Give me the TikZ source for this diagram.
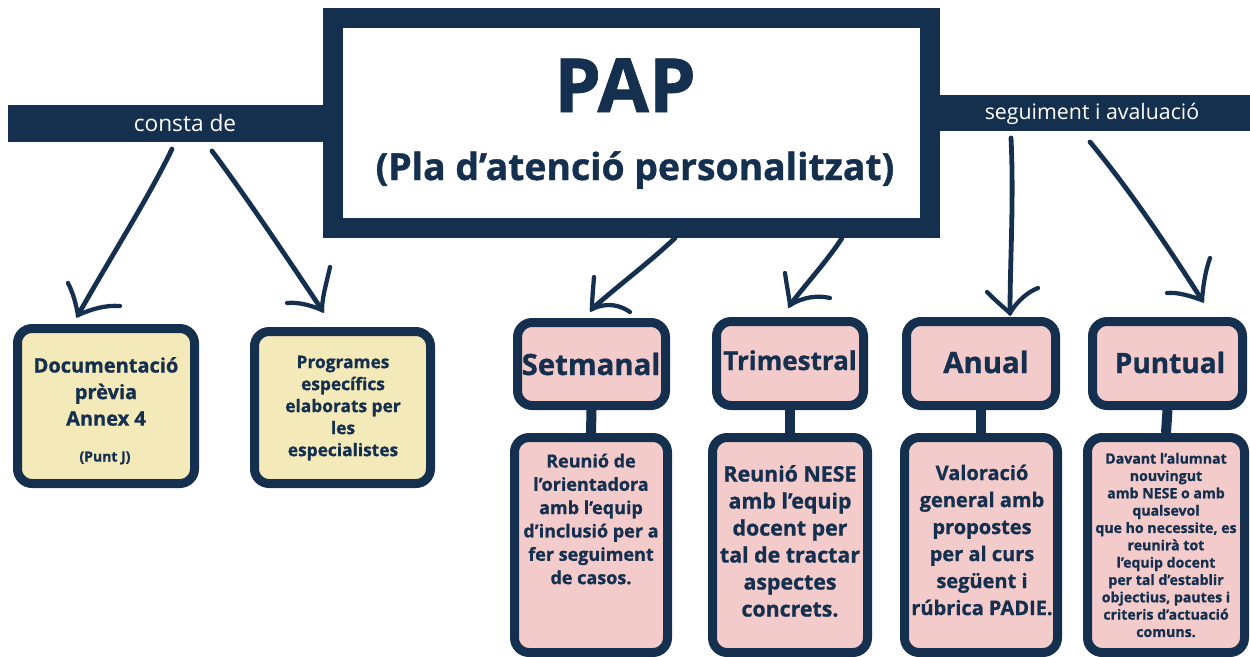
\documentclass[tikz,border=0pt]{standalone}
\usepackage{fontspec}
\setmainfont{Open Sans}[BoldFeatures={FakeBold=1.0}]
\definecolor{navy}{HTML}{15304F}
\definecolor{pinkf}{HTML}{F4CBCB}
\definecolor{yellowf}{HTML}{F4E9B8}
\tikzset{
  bar/.style={fill=navy, text=white, inner sep=0pt, minimum height=37*0.75pt},
  mainbox/.style={draw=navy, fill=white, line width=15pt, inner sep=0pt},
  rbox/.style={draw=navy, line width=6.75pt, rounded corners=11pt, inner sep=0pt},
  pbox/.style={rbox, fill=pinkf},
  ybox/.style={rbox, fill=yellowf},
  sz/.style 2 args={minimum width=#1*0.75pt, minimum height=#2*0.75pt},
  stem/.style={draw=navy, line width=7.5pt},
  txt/.style={text=navy, font=\bfseries, align=center, inner sep=0pt},
  hand/.style={draw=navy, line width=3.6pt, line cap=round, line join=round},
  barb/.style={draw=navy, line width=3.2pt, line cap=round},
}
\begin{document}
\begin{tikzpicture}[x=0.75pt,y=-0.75pt]
\useasboundingbox (0,0) rectangle (1250,657);
% bars
\node[bar, minimum width=354*0.75pt] (lbar) at (185,123.5) {};
\node[bar, minimum width=318*0.75pt, minimum height=36*0.75pt] (rbar) at (1093,113) {};
\node[text=white, font=\fontsize{17}{20}\selectfont, anchor=base, inner sep=0pt] (constade) at (185,131) {consta de};
\node[text=white, font=\fontsize{16}{20}\selectfont, anchor=base, inner sep=0pt] (seg) at (1092,119) {seguiment i avaluació};
% main box
\node[mainbox, sz={597}{210}] (main) at (631.5,123) {};
\node[txt, anchor=base, font=\fontsize{56}{60}\bfseries] (pap) at (625,112) {PAP};
\node[txt, anchor=base, font=\fontsize{28}{32}\bfseries] (papsub) at (635,180) {(Pla d’atenció personalitzat)};
% yellow boxes
\node[ybox, sz={177}{155}] (y1) at (106,406) {};
\node[ybox, sz={176}{152}] (y2) at (342.5,407.5) {};
\node[txt, font=\fontsize{15}{19.9}\bfseries] (y1t) at (106,391.5) {Documentació\\prèvia\\Annex 4};
\node[txt, font=\fontsize{10.5}{12}\bfseries] (y1p) at (105,458) {(Punt J)};
\node[txt, font=\fontsize{13}{16.5}\bfseries] (y2t) at (343,408) {Programes\\específics\\elaborats per\\les\\especialistes};
% pink boxes
\node[pbox, sz={148}{83}] (st) at (591.5,364) {};
\node[pbox, sz={153}{215}] (sb) at (591,545) {};
\node[pbox, sz={147}{84}] (tt) at (790,363.5) {};
\node[pbox, sz={155}{215}] (tb) at (790,545) {};
\node[pbox, sz={149}{84}] (at) at (981,363.5) {};
\node[pbox, sz={153}{215}] (ab) at (981,545) {};
\node[pbox, sz={150}{84}] (pt) at (1167.5,363.5) {};
\node[pbox, sz={157}{215}] (pb) at (1166,545) {};
\draw[stem] (st.south) -- (sb.north);
\draw[stem] (tt.south) -- (tb.north);
\draw[stem] (at.south) -- (ab.north);
\draw[stem] (pt.south) -- (pb.north);
% titles
\node[txt, anchor=base, font=\fontsize{22}{26}\bfseries] (stt) at (591,375) {Setmanal};
\node[txt, anchor=base, font=\fontsize{19.5}{26}\bfseries] (ttt) at (790,370) {Trimestral};
\node[txt, anchor=base, font=\fontsize{22}{26}\bfseries] (att) at (986,373) {Anual};
\node[txt, anchor=base, font=\fontsize{21}{26}\bfseries] (ptt) at (1170,373) {Puntual};
% body texts
\node[txt, font=\fontsize{13.5}{17.5}\bfseries] (sbt) at (591,519) {Reunió de\\l’orientadora\\amb l’equip\\d’inclusió per a\\fer seguiment\\de casos.};
\node[txt, font=\fontsize{16}{20.25}\bfseries] (tbt) at (790,541) {Reunió NESE\\amb l’equip\\docent per\\tal de tractar\\aspectes\\concrets.};
\node[txt, font=\fontsize{15}{20.25}\bfseries] (abt) at (982,540) {Valoració\\general amb\\propostes\\per al curs\\següent i\\rúbrica PADIE.};
\node[txt, font=\fontsize{10.6}{13}\bfseries] (pbt) at (1166,545) {Davant l’alumnat\\nouvingut\\amb NESE o amb\\qualsevol\\que ho necessite, es\\reunirà tot\\l’equip docent\\per tal d’establir\\objectius, pautes i\\criteris d’actuació\\comuns.};
% arrows
\coordinate (s1) at (172,149); \coordinate (t1) at (78,315);
\coordinate (s2) at (212,151); \coordinate (t2) at (322,310);
\coordinate (s3) at (675,238); \coordinate (t3) at (592,309);
\coordinate (s4) at (842,238); \coordinate (t4) at (790,305);
\coordinate (s5) at (1011,138); \coordinate (t5) at (1010,313);
\coordinate (s6) at (1090,142); \coordinate (t6) at (1202,300);
\draw[hand] (s1) .. controls (150,195) and (112,255) .. (t1);
\draw[barb] (68,283) .. controls (74,295) and (76,305) .. (t1) .. controls (92,309) and (105,305) .. (120,306);
\draw[hand] (s2) .. controls (245,195) and (290,262) .. (t2);
\draw[barb] (330,267) .. controls (326,285) and (322,298) .. (t2) .. controls (310,305) and (298,302) .. (287,303);
\draw[hand] (s3) .. controls (650,262) and (615,288) .. (t3);
\draw[barb] (594,277) .. controls (593,290) and (592,300) .. (t3) .. controls (607,302) and (620,305) .. (630,312);
\draw[hand] (s4) .. controls (828,260) and (805,285) .. (t4);
\draw[barb] (785,273) .. controls (787,287) and (789,297) .. (t4) .. controls (803,297) and (818,295) .. (830,298);
\draw[hand] (s5) .. controls (1014,200) and (1010,260) .. (t5);
\draw[barb] (987,292) .. controls (995,300) and (1003,307) .. (t5) .. controls (1018,300) and (1028,292) .. (1038,288);
\draw[hand] (s6) .. controls (1130,190) and (1170,250) .. (t6);
\draw[barb] (1210,258) .. controls (1205,272) and (1203,287) .. (t6) .. controls (1190,296) and (1178,292) .. (1167,293);
\end{tikzpicture}
\end{document}
